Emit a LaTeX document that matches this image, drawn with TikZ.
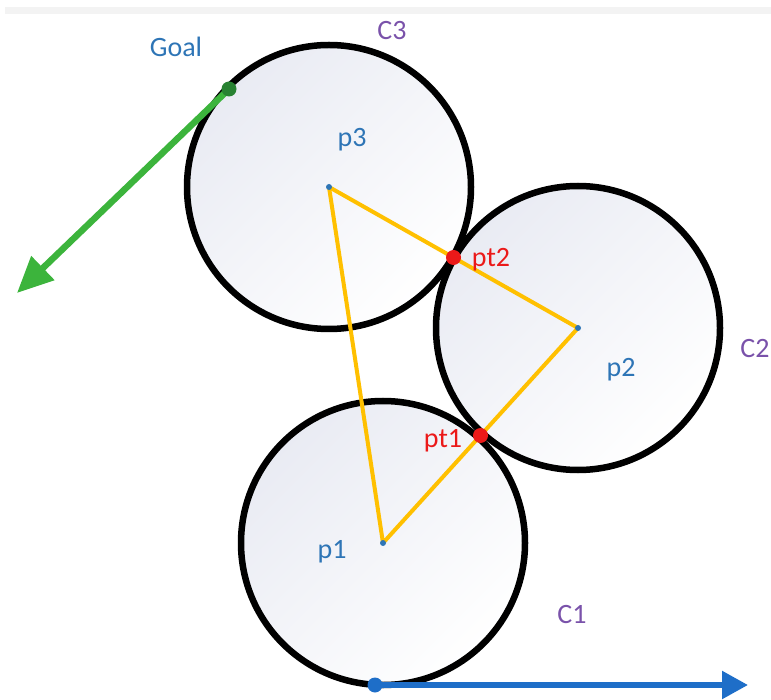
\documentclass[tikz,border=0pt]{standalone}
\usepackage{fontspec}
\setmainfont{Carlito}
\usetikzlibrary{arrows.meta,calc}
\definecolor{lblblue}{RGB}{46,117,182}
\definecolor{lblpurple}{RGB}{122,82,170}
\definecolor{lblred}{RGB}{235,25,25}
\definecolor{triyellow}{RGB}{255,192,0}
\definecolor{arrgreen}{RGB}{60,180,60}
\definecolor{dotgreen}{RGB}{40,130,50}
\definecolor{arrblue}{RGB}{30,110,200}
\definecolor{circfill}{RGB}{233,235,243}
\definecolor{bandgray}{RGB}{243,243,243}
\begin{document}
\begin{tikzpicture}[x=1pt,y=-1pt,
  lbl/.style={font=\fontsize{28}{32}\selectfont, anchor=base, inner sep=0pt},
  ring/.style={draw=black, line width=6.5pt},
  ringfill/.style={top color=circfill, bottom color=white, shading angle=45},
  cdot/.style={circle, fill=lblblue, inner sep=0pt, minimum size=6pt},
  bigdot/.style={circle, inner sep=0pt, minimum size=15pt},
  tri/.style={draw=triyellow, line width=4pt, line join=round}
]
\useasboundingbox (0,0) rectangle (771,700);
\fill[bandgray] (5,7) rectangle (771,14);

\coordinate (p3) at (329,187);
\coordinate (p2) at (578,328);
\coordinate (p1) at (383,543);

% circle fills
\shade[ringfill] (p3) circle (142);
\shade[ringfill] (p2) circle (142);
\shade[ringfill] (p1) circle (142);
% circle outlines
\draw[ring] (p3) circle (142);
\draw[ring] (p2) circle (142);
\draw[ring] (p1) circle (142);

% triangle
\draw[tri] (p1) -- (p2) -- (p3) -- cycle;

% centre dots
\node[cdot] (d3) at (p3) {};
\node[cdot] (d2) at (p2) {};
\node[cdot] (d1) at (p1) {};

% contact points
\node[bigdot, fill=lblred] (pt2) at ($(p3)!0.5!(p2)$) {};
\node[bigdot, fill=lblred] (pt1) at ($(p1)!0.5!(p2)$) {};

% goal arrow
\coordinate (gend) at (17,293);
\draw[arrgreen, line width=6.5pt, -{Triangle[length=36pt,width=32pt]}] (229,89) coordinate (gstart) -- (gend);
\node[bigdot, fill=dotgreen] (goal) at (gstart) {};

% start arrow
\coordinate (send) at (748,685);
\draw[arrblue, line width=5.5pt, -{Triangle[length=26pt,width=27pt]}] (375,685) coordinate (sstart) -- (send);
\node[bigdot, fill=arrblue] (start) at (sstart) {};

% labels
\node[lbl, text=lblblue] (lgoal) at (176,57) {Goal};
\node[lbl, text=lblpurple] (lc3) at (392,40) {C3};
\node[lbl, text=lblblue] (lp3) at (352,147) {p3};
\node[lbl, text=lblred] (lpt2) at (491,267) {pt2};
\node[lbl, text=lblpurple] (lc2) at (755,358) {C2};
\node[lbl, text=lblblue] (lp2) at (621,377) {p2};
\node[lbl, text=lblred] (lpt1) at (443,447) {pt1};
\node[lbl, text=lblblue] (lp1) at (332,558) {p1};
\node[lbl, text=lblpurple] (lc1) at (572,623) {C1};
\end{tikzpicture}
\end{document}
